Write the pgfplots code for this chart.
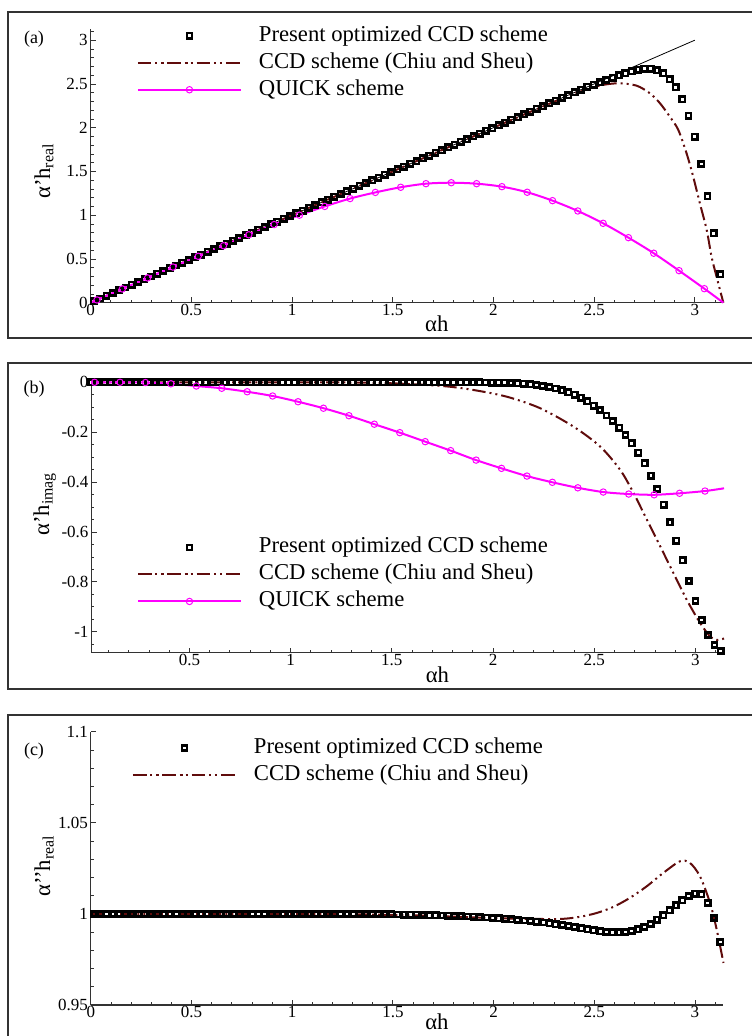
\documentclass[border=0pt]{standalone}
\usepackage{fontspec}
\setmainfont{Liberation Serif}
\usepackage{pgfplots}
\usepackage{pgfplotstable}
\pgfplotsset{compat=1.18}
\definecolor{ccd}{RGB}{96,12,12}
\definecolor{quick}{RGB}{255,0,255}

% present optimized CCD scheme: x, real (a), imag (b), second derivative real (c)
\pgfplotstableread{
x re im re2
0.0157 0.0157 0 1
0.0471 0.0471 0 1
0.0785 0.0785 0 1
0.1100 0.1100 0 1
0.1414 0.1414 0 1
0.1728 0.1728 0 1
0.2042 0.2042 0 1
0.2356 0.2356 0 1
0.2670 0.2670 0 1
0.2985 0.2985 0 1
0.3299 0.3299 0 1
0.3613 0.3613 0 1
0.3927 0.3927 0 1
0.4241 0.4241 0 1
0.4555 0.4555 0 1
0.4869 0.4869 0 1
0.5184 0.5184 0 1
0.5498 0.5498 0 1
0.5812 0.5812 0 1
0.6126 0.6126 0 1
0.6440 0.6440 0 1
0.6754 0.6754 0 1
0.7069 0.7069 0 1
0.7383 0.7383 0 1
0.7697 0.7697 0 1
0.8011 0.8011 0 1
0.8325 0.8325 0 1
0.8639 0.8639 0 1
0.8954 0.8954 0 1
0.9268 0.9268 0 1
0.9582 0.9582 0 1
0.9896 0.9896 0 1
1.0210 1.0210 0 1
1.0524 1.0524 0 1
1.0838 1.0838 0 1
1.1153 1.1153 0 1
1.1467 1.1467 0 1
1.1781 1.1781 0 1
1.2095 1.2095 0 1
1.2409 1.2409 0 1
1.2723 1.2723 0 1
1.3038 1.3038 0 1
1.3352 1.3352 0 1
1.3666 1.3666 0 1
1.3980 1.3980 0 0.9999
1.4294 1.4294 0 0.9999
1.4608 1.4608 0 0.9998
1.4923 1.4923 0 0.9998
1.5237 1.5237 0 0.9997
1.5551 1.5551 0 0.9996
1.5865 1.5865 0 0.9996
1.6179 1.6179 0 0.9995
1.6493 1.6493 0 0.9994
1.6808 1.6808 0 0.9993
1.7122 1.7122 0 0.9992
1.7436 1.7436 0 0.9991
1.7750 1.7750 0 0.9990
1.8064 1.8064 0 0.9989
1.8378 1.8378 0 0.9987
1.8692 1.8692 -0.0002 0.9986
1.9007 1.9007 -0.0003 0.9984
1.9321 1.9321 -0.0005 0.9982
1.9635 1.9635 -0.0008 0.9980
1.9949 1.9949 -0.0012 0.9978
2.0263 2.0263 -0.0017 0.9976
2.0577 2.0577 -0.0024 0.9973
2.0892 2.0892 -0.0033 0.9970
2.1206 2.1206 -0.0045 0.9967
2.1520 2.1520 -0.006 0.9964
2.1834 2.1834 -0.008 0.9961
2.2148 2.2148 -0.011 0.9957
2.2462 2.2462 -0.015 0.9953
2.2777 2.2777 -0.019 0.9948
2.3091 2.3091 -0.025 0.9944
2.3405 2.3405 -0.032 0.9939
2.3719 2.3719 -0.040 0.9934
2.4033 2.4033 -0.050 0.9928
2.4347 2.4347 -0.062 0.9922
2.4662 2.4662 -0.076 0.9916
2.4976 2.490 -0.094 0.9910
2.5290 2.518 -0.111 0.9905
2.5604 2.545 -0.133 0.9901
2.5918 2.572 -0.155 0.9899
2.6232 2.598 -0.182 0.9899
2.6546 2.622 -0.211 0.9901
2.6861 2.644 -0.245 0.9906
2.7175 2.662 -0.282 0.9915
2.7489 2.672 -0.324 0.9928
2.7803 2.672 -0.374 0.9945
2.8117 2.655 -0.428 0.9968
2.8431 2.622 -0.491 0.9993
2.8746 2.555 -0.561 1.0020
2.9060 2.462 -0.635 1.0048
2.9374 2.325 -0.713 1.0075
2.9688 2.137 -0.797 1.0098
3.0002 1.897 -0.877 1.0111
3.0316 1.585 -0.953 1.0108
3.0631 1.216 -1.013 1.0060
3.0945 0.793 -1.053 0.9978
3.1259 0.325 -1.077 0.9846
}\present

% CCD scheme (Chiu and Sheu)
\pgfplotstableread{
x y
0 0
0.5 0.5
1.0 1.0
1.5 1.5
2.0 2.0
2.3 2.295
2.4 2.385
2.496 2.462
2.56 2.495
2.628 2.507
2.711 2.48
2.777 2.393
2.827 2.279
2.876 2.126
2.918 1.974
2.959 1.707
2.992 1.44
3.025 1.136
3.059 0.831
3.083 0.526
3.108 0.297
3.1416 0
}\ccdA

\pgfplotstableread{
x y
0.0157 0
1.0 0
1.3 -0.001
1.5 -0.004
1.75 -0.015
1.904 -0.031
2.069 -0.058
2.233 -0.104
2.398 -0.178
2.530 -0.258
2.629 -0.352
2.695 -0.445
2.761 -0.552
2.827 -0.659
2.892 -0.766
2.958 -0.873
3.024 -0.966
3.074 -1.020
3.107 -1.033
3.1416 -1.027
}\ccdB

\pgfplotstableread{
x y
0 1
1.0 1.0
1.3 0.9998
1.6 0.9992
1.932 0.9980
2.1 0.9974
2.25 0.9972
2.346 0.9973
2.429 0.9984
2.512 1.0005
2.594 1.0038
2.677 1.0088
2.760 1.0151
2.843 1.0225
2.926 1.0289
2.975 1.0280
3.025 1.0206
3.075 1.0060
3.108 0.9914
3.1416 0.9731
}\ccdC

% QUICK scheme
\pgfplotstableread{
x re im
0.0314 0.031 0.000
0.1571 0.157 0.000
0.2827 0.283 -0.001
0.4084 0.407 -0.006
0.5341 0.530 -0.015
0.6597 0.651 -0.024
0.7854 0.776 -0.038
0.9111 0.893 -0.055
1.0367 1.000 -0.078
1.1624 1.100 -0.104
1.2881 1.190 -0.134
1.4137 1.260 -0.168
1.5394 1.319 -0.202
1.6650 1.360 -0.238
1.7907 1.371 -0.274
1.9164 1.360 -0.312
2.0420 1.326 -0.345
2.1677 1.262 -0.376
2.2934 1.166 -0.401
2.4190 1.048 -0.423
2.5447 0.907 -0.440
2.6704 0.743 -0.448
2.7960 0.565 -0.451
2.9217 0.366 -0.445
3.0473 0.160 -0.436
}\quick

\pgfplotsset{
  wide legend/.style={legend image code/.code={\path (0pt,0pt) (77.2pt,0pt);\draw[mark repeat=2,mark phase=2,##1] plot coordinates {(0pt,0pt) (38.6pt,0pt) (77.2pt,0pt)};}},
  sq/.style={only marks, mark=square, mark size=2pt, black, mark options={line width=1.9pt, solid}, wide legend},
  ccdline/.style={ccd, line width=1.5pt, dash pattern=on 10pt off 3pt on 1.5pt off 3pt on 1.5pt off 3pt, wide legend},
  quickline/.style={quick, line width=1.5pt, no marks},
  quickmarks/.style={quick, only marks, mark=o, mark size=2.4pt, mark options={line width=0.75pt}},
  quicklegend/.style={quick, line width=1.5pt, mark=o, mark size=2.4pt, mark options={line width=0.75pt}, wide legend},
  panel/.style={
    scale only axis, width=474.5pt, anchor=south west,
    axis lines*=left,
    axis line style={black!80, line width=0.8pt},
    tick align=inside,
    major tick length=4pt, minor tick length=2.2pt,
    every tick/.style={black!80, line width=0.6pt},
    tick label style={font=\fontsize{12.75}{14}\selectfont},
    /pgf/number format/assume math mode=true,
    scaled ticks=false,
    xticklabel style={inner sep=1pt},
    yticklabel style={inner sep=2pt},
    xlabel={αh},
    every axis x label/.style={at={(axis description cs:0.547,0)}, anchor=center, yshift=-15.6pt, font=\fontsize{17}{19}\selectfont},
    every axis y label/.style={at={(axis description cs:-0.0738,0.5)}, rotate=90, anchor=center, font=\fontsize{17}{19}\selectfont},
    legend cell align=left,
    legend style={draw=none, fill=none, inner sep=0pt, outer sep=0pt,
      font=\fontsize{17}{20}\selectfont, column sep=12.75pt, row sep=4.25pt,
      nodes={inner sep=0pt, text height=12pt, text depth=4pt}, anchor=west},
    clip=false,
  }
}

\begin{document}
\begin{tikzpicture}
\path[use as bounding box] (0,0) rectangle (564pt,-777pt);
\draw[black!80, line width=0.8pt] (6pt,-9pt) rectangle (570pt,-253.5pt);
\draw[black!80, line width=0.8pt] (6pt,-272.25pt) rectangle (570pt,-516.75pt);
\draw[black!80, line width=0.8pt] (6pt,-536.25pt) rectangle (570pt,-783.75pt);
\node[font=\fontsize{13.5}{15}\selectfont] at (25.5pt,-29.25pt) {(a)};
\node[font=\fontsize{13.5}{15}\selectfont] at (25.5pt,-291.75pt) {(b)};
\node[font=\fontsize{13.5}{15}\selectfont] at (25.5pt,-563.25pt) {(c)};

% (a)
\begin{axis}[panel, at={(68pt,-227pt)}, height=205.4pt,
  xmin=0, xmax=3.14159, ymin=0, ymax=3.13,
  xtick={0,0.5,...,3}, minor xtick={0.1,0.2,...,3.1},
  ytick={0,0.5,...,3}, minor ytick={0.1,0.2,...,3.1},
  ylabel={α’h\textsubscript{real}},
  ylabel style={at={(axis description cs:-0.0738,0.48)}},
  legend style={at={(axis description cs:0.0732,0.876)}}]
\addplot[black, line width=0.6pt, forget plot] table[x=x, y=y] {
x y
0 0
3 3
};
\addplot[sq] table[x=x, y=re] {\present};
\addlegendentry{Present optimized CCD scheme}
\addplot[ccdline, smooth] table[x=x, y=y] {\ccdA};
\addlegendentry{CCD scheme (Chiu and Sheu)}
\addplot[quickline, smooth, forget plot] table[x=x, y=re] {
x re
0 0
0.0314 0.031
0.1571 0.157
0.2827 0.283
0.4084 0.407
0.5341 0.530
0.6597 0.651
0.7854 0.776
0.9111 0.893
1.0367 1.000
1.1624 1.100
1.2881 1.190
1.4137 1.260
1.5394 1.319
1.6650 1.360
1.7907 1.371
1.9164 1.360
2.0420 1.326
2.1677 1.262
2.2934 1.166
2.4190 1.048
2.5447 0.907
2.6704 0.743
2.7960 0.565
2.9217 0.366
3.0473 0.160
3.1416 0
};
\addplot[quickmarks, forget plot] table[x=x, y=re] {\quick};
\addlegendimage{quicklegend}
\addlegendentry{QUICK scheme}
\end{axis}

% (b)
\begin{axis}[panel, at={(68.55pt,-489.7pt)}, height=203pt,
  xmin=0.0157, xmax=3.14159, ymin=-1.085, ymax=0,
  xtick={0.5,1,...,3}, minor xtick={0.1,0.2,...,3.1},
  ytick={-1,-0.8,...,0}, minor ytick={-1.05,-1,...,0},
  ylabel={α’h\textsubscript{imag}},
  ylabel style={at={(axis description cs:-0.0738,0.55)}},
  xlabel style={yshift=-0.6pt},
  legend style={at={(axis description cs:0.0721,0.290)}}]
\addplot[sq] table[x=x, y=im] {\present};
\addlegendentry{Present optimized CCD scheme}
\addplot[ccdline, smooth] table[x=x, y=y] {\ccdB};
\addlegendentry{CCD scheme (Chiu and Sheu)}
\addplot[quickline, smooth, forget plot] table[x=x, y=im] {
x im
0.0157 0
0.0314 0.000
0.1571 0.000
0.2827 -0.001
0.4084 -0.006
0.5341 -0.015
0.6597 -0.024
0.7854 -0.038
0.9111 -0.055
1.0367 -0.078
1.1624 -0.104
1.2881 -0.134
1.4137 -0.168
1.5394 -0.202
1.6650 -0.238
1.7907 -0.274
1.9164 -0.312
2.0420 -0.345
2.1677 -0.376
2.2934 -0.401
2.4190 -0.423
2.5447 -0.440
2.6704 -0.448
2.7960 -0.451
2.9217 -0.445
3.0473 -0.436
3.1416 -0.425
};
\addplot[quickmarks, forget plot] table[x=x, y=im] {\quick};
\addlegendimage{quicklegend}
\addlegendentry{QUICK scheme}
\end{axis}

% (c)
\begin{axis}[panel, at={(68.1pt,-753.75pt)}, height=205pt,
  xmin=0, xmax=3.14159, ymin=0.95, ymax=1.1,
  xtick={0,0.5,...,3}, minor xtick={0.1,0.2,...,3.1},
  ytick={0.95,1,1.05,1.1}, minor ytick={0.96,0.97,0.98,0.99,1.01,1.02,1.03,1.04,1.06,1.07,1.08,1.09},
  yticklabel style={/pgf/number format/precision=2},
  ylabel={α’’h\textsubscript{real}},
  ylabel style={at={(axis description cs:-0.0738,0.509)}},
  xlabel style={yshift=2.8pt},
  legend style={at={(axis description cs:0.0651,0.891)}}]
\addplot[sq] table[x=x, y=re2] {\present};
\addlegendentry{Present optimized CCD scheme}
\addplot[ccdline, smooth] table[x=x, y=y] {\ccdC};
\addlegendentry{CCD scheme (Chiu and Sheu)}
\end{axis}
\end{tikzpicture}
\end{document}
